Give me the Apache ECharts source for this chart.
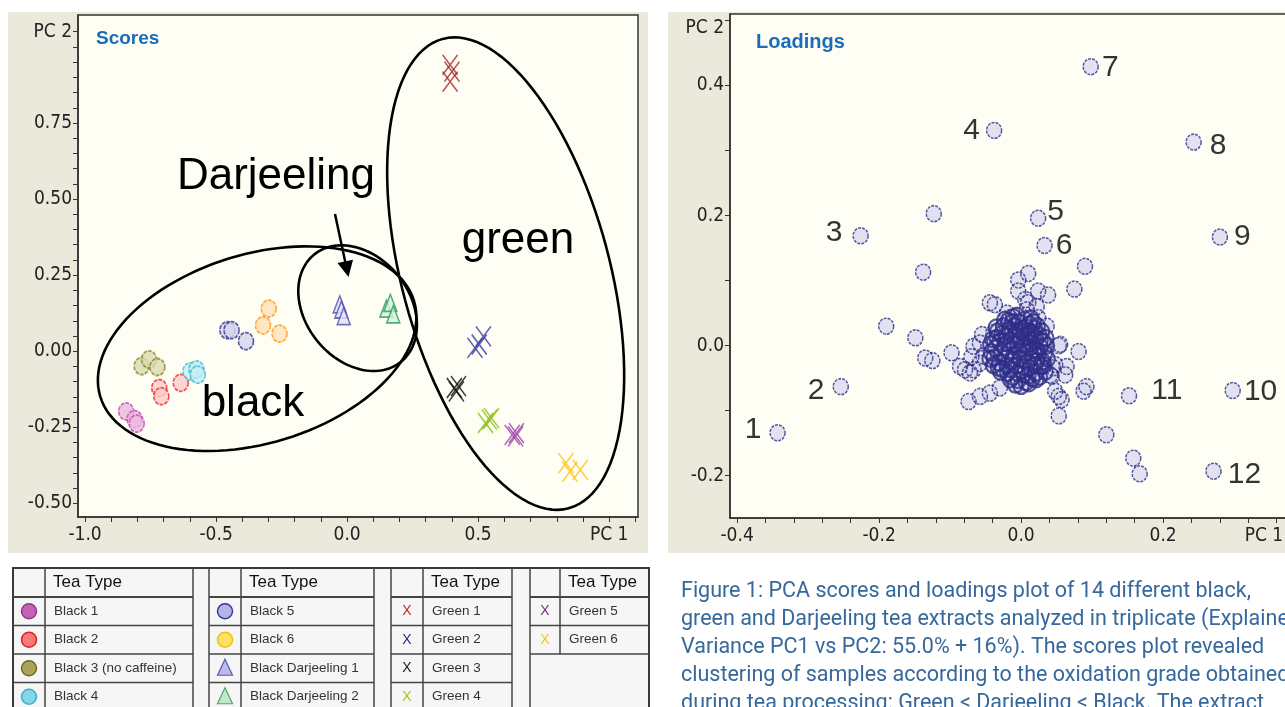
<!DOCTYPE html>
<html>
<head>
<meta charset="utf-8">
<script src="https://cdn.jsdelivr.net/npm/echarts@6/dist/echarts.min.js"></script>
<style>
html, body { margin: 0; padding: 0; background: #fff; }
#main { width: 1285px; height: 707px; }
</style>
</head>
<body>
<div id="main"></div>
<script>
// ---- scores (PC1, PC2), three replicates per tea ----
var black1 = [[-0.843, -0.198], [-0.811, -0.223], [-0.803, -0.238]];
var black2 = [[-0.717, -0.121], [-0.709, -0.148], [-0.635, -0.104]];
var black3 = [[-0.784, -0.049], [-0.756, -0.027], [-0.724, -0.052]];
var black4 = [[-0.598, -0.066], [-0.575, -0.060], [-0.570, -0.077]];
var black5 = [[-0.457, 0.069], [-0.441, 0.069], [-0.386, 0.033]];
var black6 = [[-0.299, 0.140], [-0.321, 0.085], [-0.258, 0.058]];
var darj1 = [[-0.028, 0.154], [-0.022, 0.137], [-0.013, 0.115]];
var darj2 = [[0.150, 0.140], [0.165, 0.159], [0.176, 0.121]];
var green1 = [[0.393, 0.941], [0.400, 0.919], [0.393, 0.886]];
var green2 = [[0.488, 0.011], [0.504, 0.022], [0.520, 0.049]];
var green3 = [[0.409, -0.121], [0.417, -0.132], [0.425, -0.115]];
var green4 = [[0.528, -0.236], [0.543, -0.225], [0.551, -0.220]];
var green5 = [[0.630, -0.275], [0.643, -0.280], [0.646, -0.269]];
var green6 = [[0.835, -0.368], [0.850, -0.396], [0.890, -0.390]];

var teaNames = ['Black 1', 'Black 2', 'Black 3 (no caffeine)', 'Black 4', 'Black 5', 'Black 6',
  'Black Darjeeling 1', 'Black Darjeeling 2', 'Green 1', 'Green 2', 'Green 3', 'Green 4', 'Green 5', 'Green 6'];
var teaScores = [black1, black2, black3, black4, black5, black6, darj1, darj2,
  green1, green2, green3, green4, green5, green6];

// ---- loadings (PC1, PC2) ----
var loadNumbered = [[-0.343, -0.134], [-0.254, -0.063], [-0.226, 0.169], [-0.038, 0.331],
  [0.024, 0.196], [0.033, 0.154], [0.098, 0.429], [0.243, 0.313], [0.280, 0.167],
  [0.298, -0.069], [0.152, -0.077], [0.271, -0.193]];
var loadNumbers = ['1', '2', '3', '4', '5', '6', '7', '8', '9', '10', '11', '12'];

var loadOuter = [[-0.123, 0.203], [0.090, 0.122], [-0.138, 0.113], [0.010, 0.111], [-0.004, 0.101],
  [-0.004, 0.084], [0.024, 0.084], [0.038, 0.078], [0.075, 0.087], [-0.044, 0.066], [-0.037, 0.063],
  [0.006, 0.071], [0.010, 0.066], [0.008, 0.055], [0.022, 0.060], [-0.020, 0.050], [-0.016, 0.043],
  [0.024, 0.043], [0.036, 0.030], [-0.190, 0.030], [-0.149, 0.012], [-0.135, -0.019], [-0.125, -0.023],
  [-0.098, -0.011], [-0.055, 0.017], [-0.058, 0.004], [-0.039, 0.020], [-0.067, -0.001], [-0.070, -0.017],
  [-0.086, -0.032], [-0.079, -0.037], [-0.072, -0.042], [-0.067, -0.037], [-0.058, -0.027], [-0.053, -0.016],
  [-0.074, -0.086], [-0.058, -0.078], [-0.044, -0.073], [-0.030, -0.065], [0.053, 0.000], [0.055, 0.002],
  [0.081, -0.009], [0.048, -0.029], [0.064, -0.032], [0.062, -0.045], [0.041, -0.045], [0.045, -0.034],
  [0.043, -0.047], [0.048, -0.070], [0.053, -0.078], [0.057, -0.083], [0.088, -0.070], [0.092, -0.063],
  [0.053, -0.108], [0.120, -0.137], [0.158, -0.173], [0.167, -0.197]];

var loadCore = [[-0.040, 0.010], [-0.036, -0.004], [-0.038, -0.018], [-0.033, 0.022], [-0.030, 0.006],
  [-0.028, -0.012], [-0.031, -0.026], [-0.025, 0.030], [-0.022, 0.015], [-0.024, -0.002], [-0.021, -0.019],
  [-0.026, -0.036], [-0.018, 0.038], [-0.016, 0.024], [-0.014, 0.008], [-0.017, -0.008], [-0.013, -0.024],
  [-0.019, -0.042], [-0.011, 0.044], [-0.009, 0.030], [-0.008, 0.017], [-0.006, 0.002], [-0.010, -0.014],
  [-0.007, -0.031], [-0.012, -0.048], [-0.003, 0.036], [-0.001, 0.022], [0.000, 0.010], [0.002, -0.004],
  [-0.002, -0.020], [0.001, -0.038], [-0.004, -0.053], [0.005, 0.040], [0.007, 0.028], [0.008, 0.014],
  [0.006, -0.010], [0.009, -0.026], [0.004, -0.044], [0.007, -0.056], [0.012, 0.033], [0.014, 0.020],
  [0.013, 0.004], [0.015, -0.016], [0.012, -0.034], [0.016, -0.050], [0.019, 0.026], [0.021, 0.010],
  [0.018, -0.006], [0.022, -0.024], [0.020, -0.042], [0.025, 0.016], [0.027, -0.002], [0.024, -0.016],
  [0.028, -0.032], [0.026, -0.048], [0.031, 0.006], [0.033, -0.012], [0.030, -0.024], [0.034, -0.040],
  [0.036, 0.000], [0.037, -0.020], [-0.043, 0.002], [-0.042, -0.010], [-0.034, 0.012], [-0.029, -0.040],
  [-0.015, -0.036], [-0.005, -0.042], [0.010, -0.046], [0.003, 0.026], [-0.020, 0.004], [0.017, 0.036],
  [0.023, 0.030], [-0.027, 0.018], [0.029, 0.022], [0.011, -0.058], [-0.008, -0.060],
  [-0.035, 0.028], [-0.032, -0.034], [-0.023, 0.040], [-0.020, -0.030], [-0.012, 0.036], [-0.010, 0.002],
  [-0.004, 0.014], [-0.002, -0.010], [0.003, 0.004], [0.004, -0.022], [0.010, 0.022], [0.011, -0.004],
  [0.018, 0.016], [0.019, -0.030], [0.023, -0.008], [0.027, 0.008], [0.032, -0.030], [-0.039, -0.030],
  [-0.044, -0.020], [0.035, 0.012], [-0.015, -0.052], [0.021, -0.052], [0.000, -0.062], [-0.006, 0.046],
  [0.014, 0.042]];

// ---- axis ticks / labels ----
var scoreXTicks = [-1.0, -0.9, -0.8, -0.7, -0.6, -0.5, -0.4, -0.3, -0.2, -0.1, 0.0, 0.1, 0.2, 0.3, 0.4,
  0.5, 0.6, 0.7, 0.8, 0.9, 1.0, 1.1];
var scoreXLabels = [-1.0, -0.5, 0.0, 0.5, 1.0];
var scoreYTicks = [-0.5, -0.45, -0.4, -0.35, -0.3, -0.25, -0.2, -0.15, -0.1, -0.05, 0.0, 0.05, 0.1, 0.15,
  0.2, 0.25, 0.3, 0.35, 0.4, 0.45, 0.5, 0.55, 0.6, 0.65, 0.7, 0.75, 0.8, 0.85, 0.9, 0.95, 1.0, 1.05];
var scoreYLabels = [-0.5, -0.25, 0.0, 0.25, 0.5, 0.75, 1.05];
var loadXTicks = [-0.4, -0.36, -0.32, -0.28, -0.24, -0.2, -0.16, -0.12, -0.08, -0.04, 0.0, 0.04, 0.08,
  0.12, 0.16, 0.2, 0.24, 0.28, 0.32, 0.36];
var loadXLabels = [-0.4, -0.2, 0.0, 0.2, 0.342];
var loadYTicks = [-0.2, -0.1, 0.0, 0.1, 0.2, 0.3, 0.4, 0.5];
var loadYLabels = [-0.2, 0.0, 0.2, 0.4, 0.488];

var captionLines = [
  'Figure 1: PCA scores and loadings plot of 14 different black,',
  'green and Darjeeling tea extracts analyzed in triplicate (Explained',
  'Variance PC1 vs PC2: 55.0% + 16%). The scores plot revealed',
  'clustering of samples according to the oxidation grade obtained',
  'during tea processing: Green < Darjeeling < Black. The extract'
];
var legendColumns = [
  ['Black 1', 'Black 2', 'Black 3 (no caffeine)', 'Black 4'],
  ['Black 5', 'Black 6', 'Black Darjeeling 1', 'Black Darjeeling 2'],
  ['Green 1', 'Green 2', 'Green 3', 'Green 4'],
  ['Green 5', 'Green 6']
];

// ---- styles ----
var teaStyle = {
  'Black 1': { shape: 'circle', fill: '#ebb6e2', stroke: '#c04cb0', key: '#c462b6', keyLine: '#8a3a80' },
  'Black 2': { shape: 'circle', fill: '#fccccc', stroke: '#ec2a2a', key: '#f77a7a', keyLine: '#e02020' },
  'Black 3 (no caffeine)': { shape: 'circle', fill: '#d9d9ac', stroke: '#86862a', key: '#a9a45a', keyLine: '#6e6a28' },
  'Black 4': { shape: 'circle', fill: '#c6eef4', stroke: '#34bed2', key: '#86d6ea', keyLine: '#3fb0cc' },
  'Black 5': { shape: 'circle', fill: '#d4d4ee', stroke: '#333394', key: '#b4b4e6', keyLine: '#34349c' },
  'Black 6': { shape: 'circle', fill: '#ffe0b8', stroke: '#ff9a18', key: '#ffe066', keyLine: '#f2c200' },
  'Black Darjeeling 1': { shape: 'triangle', fill: '#e4e4f6', stroke: '#5050b0', key: '#b9b9ea', keyLine: '#5a5ab5' },
  'Black Darjeeling 2': { shape: 'triangle', fill: '#d4f0de', stroke: '#2a9a58', key: '#bfe8cb', keyLine: '#4aaa6a' },
  'Green 1': { shape: 'x', stroke: '#a52a2a', key: '#c02a2a' },
  'Green 2': { shape: 'x', stroke: '#3c3ca0', key: '#2a2a8c' },
  'Green 3': { shape: 'x', stroke: '#111111', key: '#222222' },
  'Green 4': { shape: 'x', stroke: '#8cc21c', key: '#a6c61a' },
  'Green 5': { shape: 'x', stroke: '#9c44a4', key: '#7e2e8e' },
  'Green 6': { shape: 'x', stroke: '#ffc20e', key: '#f2c81a' }
};
var X_PATH = 'path://M0,0L10,14M10,0L0,14';
var AXIS_FONT = "'DejaVu Sans Condensed', 'Liberation Sans', sans-serif";
var BIG_FONT = "'Liberation Sans', Arial, sans-serif";
var CREAM = '#fefef5';
var LOAD_FILL = '#d9d9ee', LOAD_LINE = '#2e2e88';

// hand-drawn ellipses: centre in data units, semi axes in px, tilt in degrees
var ellipses = [
  { cx: -0.3435, cy: 0.0082, a: 164, b: 94.5, angle: -17 },
  { cx: 0.040, cy: 0.1414, a: 69, b: 52, angle: 51 },
  { cx: 0.605, cy: 0.255, a: 243, b: 104, angle: 75 }
];
// label side / distance / offset for numbered loadings
var numberLabelPos = [
  ['left', 8, [0, -3]], ['left', 8, [0, 4]], ['left', 10, [0, -3]], ['left', 6, [0, 0]],
  ['right', 1, [0, -6]], ['right', 3, [0, 0]], ['right', 3, [0, 1]], ['right', 8, [0, 4]],
  ['right', 6, [0, 0]], ['right', 3, [0, 1]], ['right', 14, [0, -5]], ['right', 6, [0, 4]]
];

var chart = echarts.init(document.getElementById('main'));

function valueAxis(grid, min, max, ticks, labels, fmt, isY) {
  return {
    type: 'value', gridIndex: grid, min: min, max: max,
    axisLine: { show: true, onZero: false, lineStyle: { color: '#333', width: 1.5 } },
    axisTick: { show: true, customValues: ticks, length: 5, lineStyle: { color: '#333', width: 1 } },
    axisLabel: {
      customValues: labels, formatter: fmt, margin: isY ? 6 : 9,
      color: '#222', fontSize: 19, fontFamily: AXIS_FONT
    },
    splitLine: { show: false }
  };
}

var series = [];
teaNames.forEach(function (name, i) {
  var st = teaStyle[name];
  var s = {
    name: name, type: 'scatter', xAxisIndex: 0, yAxisIndex: 0,
    data: teaScores[i], z: 3
  };
  if (st.shape === 'x') {
    s.symbol = X_PATH;
    s.symbolSize = [15, 20];
    s.itemStyle = { color: 'rgba(0,0,0,0)', borderColor: st.stroke, borderWidth: 1.6 };
  } else if (st.shape === 'triangle') {
    s.symbol = 'triangle';
    s.symbolSize = [13, 17];
    s.itemStyle = { color: st.fill, borderColor: st.stroke, borderWidth: 1.6 };
  } else {
    s.symbol = 'circle';
    s.symbolSize = [15, 17];
    s.itemStyle = { color: st.fill, borderColor: st.stroke, borderWidth: 1.7, borderType: [4, 1.2] };
  }
  series.push(s);
});

series.push({
  type: 'custom', xAxisIndex: 0, yAxisIndex: 0, z: 10, silent: true,
  data: ellipses.map(function (e) { return [e.cx, e.cy]; }),
  renderItem: function (params, api) {
    var e = ellipses[params.dataIndex];
    var c = api.coord([api.value(0), api.value(1)]);
    var th = e.angle * Math.PI / 180;
    var pts = [];
    for (var k = 0; k < 120; k++) {
      var t = k / 120 * Math.PI * 2;
      var px = e.a * Math.cos(t), py = e.b * Math.sin(t);
      pts.push([c[0] + px * Math.cos(th) - py * Math.sin(th), c[1] + px * Math.sin(th) + py * Math.cos(th)]);
    }
    return { type: 'polygon', shape: { points: pts }, style: { fill: null, stroke: '#000', lineWidth: 2.6 } };
  }
});

// loadings: fills first, outlines on top (as the original plot renders its dense centre)
series.push({
  name: 'loadings', type: 'scatter', xAxisIndex: 1, yAxisIndex: 1, z: 2,
  symbolSize: [15, 16], itemStyle: { color: LOAD_FILL, borderWidth: 0 }, data: loadOuter.concat(loadCore)
});
series.push({
  name: 'loadings outline', type: 'scatter', xAxisIndex: 1, yAxisIndex: 1, z: 3,
  symbolSize: [15, 16],
  itemStyle: { color: 'rgba(0,0,0,0)', borderColor: LOAD_LINE, borderWidth: 1.5, borderType: [3, 1.2] },
  data: loadOuter
});
series.push({
  name: 'loadings core outline', type: 'scatter', xAxisIndex: 1, yAxisIndex: 1, z: 3,
  symbolSize: [15, 16],
  itemStyle: { color: 'rgba(0,0,0,0)', borderColor: LOAD_LINE, borderWidth: 2.2 },
  data: loadCore
});
series.push({
  name: 'numbered', type: 'scatter', xAxisIndex: 1, yAxisIndex: 1, z: 4,
  symbolSize: [15, 16],
  itemStyle: { color: LOAD_FILL, borderColor: LOAD_LINE, borderWidth: 1.5, borderType: [3, 1.2] },
  data: loadNumbered.map(function (p, i) {
    var lp = numberLabelPos[i];
    return { value: p, label: { position: lp[0], distance: lp[1], offset: lp[2] } };
  }),
  label: {
    show: true, color: '#000', fontSize: 30, fontFamily: BIG_FONT,
    formatter: function (p) { return loadNumbers[p.dataIndex]; }
  }
});

// ---- graphic: panels, annotations, table, caption ----
var graphics = [
  { type: 'rect', z: -10, shape: { x: 8, y: 12, width: 640, height: 541 }, style: { fill: '#ebe9dc' } },
  { type: 'rect', z: -10, shape: { x: 668, y: 12, width: 640, height: 541 }, style: { fill: '#ebe9dc' } },
  // loadings frame runs past the right edge of the picture
  { type: 'rect', z: -9, shape: { x: 730, y: 14, width: 640, height: 504 }, style: { fill: CREAM, stroke: '#333', lineWidth: 1.5 } },
  { type: 'text', z: 50, x: 276, y: 177, style: { text: 'Darjeeling', font: '44px ' + BIG_FONT, fill: '#000', textAlign: 'center', textVerticalAlign: 'middle' } },
  { type: 'text', z: 50, x: 518, y: 241, style: { text: 'green', font: '44px ' + BIG_FONT, fill: '#000', textAlign: 'center', textVerticalAlign: 'middle' } },
  { type: 'text', z: 50, x: 253, y: 404, style: { text: 'black', font: '44px ' + BIG_FONT, fill: '#000', textAlign: 'center', textVerticalAlign: 'middle' } },
  { type: 'line', z: 50, shape: { x1: 335, y1: 214, x2: 345.5, y2: 263 }, style: { stroke: '#000', lineWidth: 2.5 } },
  { type: 'polygon', z: 50, shape: { points: [[348.5, 277], [353, 259.7], [337.5, 263]] }, style: { fill: '#000' } }
];

var T_TOP = 568, T_HEAD = 29, T_ROW = 28.5, T_BOTTOM = 740;
var tableCols = [[13, 45, 193], [209, 241, 374], [391, 423, 512], [530, 560, 649]];
graphics.push({ type: 'rect', z: 1, shape: { x: 13, y: T_TOP, width: 636, height: T_BOTTOM - T_TOP },
  style: { fill: '#f6f6f6', stroke: '#3a3a3a', lineWidth: 2 } });
legendColumns.forEach(function (names, g) {
  var c = tableCols[g];
  var lineStyle = { stroke: '#444', lineWidth: 1.5 };
  if (g > 0) graphics.push({ type: 'line', z: 2, shape: { x1: c[0], y1: T_TOP, x2: c[0], y2: T_BOTTOM }, style: lineStyle });
  if (g < 3) graphics.push({ type: 'line', z: 2, shape: { x1: c[2], y1: T_TOP, x2: c[2], y2: T_BOTTOM }, style: lineStyle });
  var endY = T_TOP + T_HEAD + names.length * T_ROW;
  graphics.push({ type: 'line', z: 2, shape: { x1: c[1], y1: T_TOP, x2: c[1], y2: endY }, style: lineStyle });
  for (var k = 0; k <= names.length; k++) {
    var yy = T_TOP + T_HEAD + k * T_ROW;
    graphics.push({ type: 'line', z: 2, shape: { x1: c[0], y1: yy, x2: c[2], y2: yy },
      style: { stroke: '#444', lineWidth: k === 0 ? 2 : 1.5 } });
  }
  graphics.push({ type: 'text', z: 3, x: c[1] + 8, y: T_TOP + T_HEAD / 2,
    style: { text: 'Tea Type', font: '17px ' + BIG_FONT, fill: '#111', textVerticalAlign: 'middle' } });
  names.forEach(function (name, r) {
    var cy = T_TOP + T_HEAD + r * T_ROW + T_ROW / 2;
    var cx = (c[0] + c[1]) / 2;
    var st = teaStyle[name];
    if (st.shape === 'circle') {
      graphics.push({ type: 'circle', z: 3, shape: { cx: cx, cy: cy, r: 7.5 }, style: { fill: st.key, stroke: st.keyLine, lineWidth: 1.5 } });
    } else if (st.shape === 'triangle') {
      graphics.push({ type: 'polygon', z: 3, shape: { points: [[cx, cy - 9], [cx + 7.5, cy + 7], [cx - 7.5, cy + 7]] },
        style: { fill: st.key, stroke: st.keyLine, lineWidth: 1.2 } });
    } else {
      graphics.push({ type: 'text', z: 3, x: cx, y: cy,
        style: { text: 'X', font: '14px ' + BIG_FONT, fill: st.key, textAlign: 'center', textVerticalAlign: 'middle' } });
    }
    graphics.push({ type: 'text', z: 3, x: c[1] + 9, y: cy,
      style: { text: name, font: '13.5px ' + BIG_FONT, fill: '#333', textVerticalAlign: 'middle' } });
  });
});

captionLines.forEach(function (line, i) {
  graphics.push({ type: 'text', z: 3, x: 681, y: 592 + i * 28,
    style: { text: line, font: '21.5px Roboto, sans-serif', fill: '#36689c', textVerticalAlign: 'middle' } });
});

var option = {
  backgroundColor: '#ffffff',
  animation: false,
  title: [
    { text: 'Scores', left: 91, top: 24, textStyle: { color: '#1b6db8', fontSize: 19, fontWeight: 'bold', fontFamily: BIG_FONT } },
    { text: 'Loadings', left: 751, top: 27, textStyle: { color: '#1b6db8', fontSize: 20, fontWeight: 'bold', fontFamily: BIG_FONT } }
  ],
  grid: [
    { left: 78, top: 15, width: 560, height: 502, outerBoundsMode: 'none', show: true,
      backgroundColor: CREAM, borderColor: '#333', borderWidth: 1.5 },
    { left: 730, top: 14, width: 555, height: 504, outerBoundsMode: 'none', show: false }
  ],
  xAxis: [
    valueAxis(0, -1.027, 1.11, scoreXTicks, scoreXLabels,
      function (v) { return Math.abs(v - 1) < 1e-6 ? 'PC 1' : v.toFixed(1); }, false),
    valueAxis(1, -0.41, 0.3717, loadXTicks, loadXLabels,
      function (v) { return v > 0.3 ? 'PC 1' : v.toFixed(1); }, false)
  ],
  yAxis: [
    valueAxis(0, -0.545, 1.105, scoreYTicks, scoreYLabels,
      function (v) { return v > 1 ? 'PC 2' : v.toFixed(2); }, true),
    valueAxis(1, -0.265, 0.51, loadYTicks, loadYLabels,
      function (v) { return v > 0.45 ? 'PC 2' : v.toFixed(1); }, true)
  ],
  graphic: graphics,
  series: series
};

chart.setOption(option);

window.addEventListener('resize', function () {
  chart.resize();
});
</script>
</body>
</html>
